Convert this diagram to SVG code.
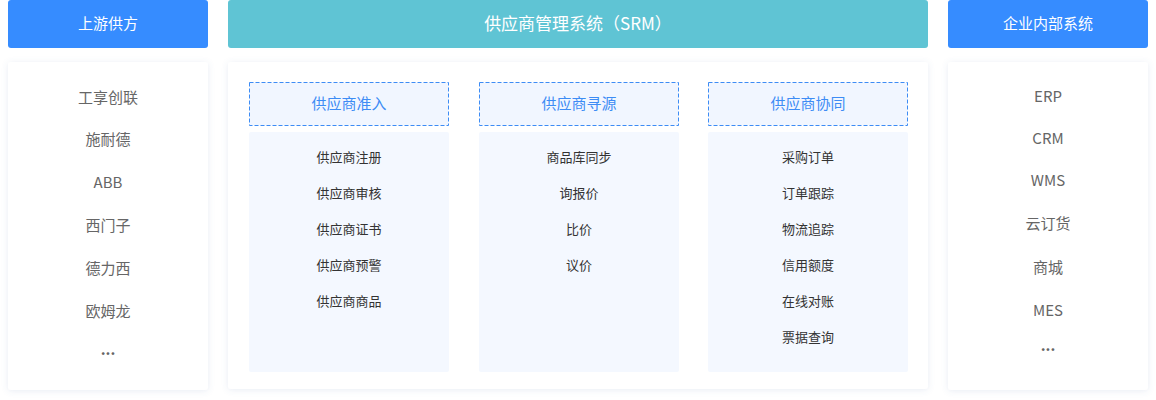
<svg xmlns="http://www.w3.org/2000/svg" width="1156" height="400" viewBox="0 0 1156 400">
<defs>
<filter id="sh" x="-10%" y="-10%" width="120%" height="120%">
<feDropShadow dx="0" dy="1" stdDeviation="3" flood-color="#5a7ab0" flood-opacity="0.14"/>
</filter>
<style>
text{font-family:"Noto Sans CJK SC","Noto Sans",sans-serif;text-anchor:middle;dominant-baseline:central}
.hdr{fill:#368cff}
.ht{fill:#fff;font-size:15px}
.panel{fill:#fff;filter:url(#sh)}
.li{fill:#666;font-size:15px}
.sh{fill:#f1f6ff;stroke:#3d8cf5;stroke-width:1;stroke-dasharray:4 2}
.st{fill:#3d8cf5;font-size:15px}
.body{fill:#f4f8ff}
.it{fill:#333;font-size:13px}
.dot{fill:#666;font-size:15px;font-weight:bold}
</style>
</defs>
<g id="upstream">
<rect class="hdr" x="8" y="0" width="200" height="48" rx="3"/>
<text class="ht" x="108" y="22.5">上游供方</text>
<rect class="panel" x="8" y="62" width="200" height="328" rx="3"/>
<text class="li" x="108" y="96.5">工享创联</text>
<text class="li" x="108" y="138.5">施耐德</text>
<text class="li" x="108" y="181.5">ABB</text>
<text class="li" x="108" y="224.5">西门子</text>
<text class="li" x="108" y="267.5">德力西</text>
<text class="li" x="108" y="310.5">欧姆龙</text>
<text class="dot" x="108" y="348">...</text>
</g>
<g id="srm">
<rect x="228" y="0" width="700" height="48" rx="3" fill="#5fc4d4"/>
<text class="ht" x="578" y="22.5" style="font-size:17px">供应商管理系统（SRM）</text>
<rect class="panel" x="228" y="62" width="700" height="327" rx="3"/>
</g>
<g id="admission">
<rect class="sh" x="249.5" y="82.5" width="199" height="43"/>
<text class="st" x="349" y="102.5">供应商准入</text>
<rect class="body" x="249" y="132" width="200" height="240" rx="2"/>
<text class="it" x="349" y="156">供应商注册</text>
<text class="it" x="349" y="192">供应商审核</text>
<text class="it" x="349" y="228">供应商证书</text>
<text class="it" x="349" y="264">供应商预警</text>
<text class="it" x="349" y="300">供应商商品</text>
</g>
<g id="sourcing">
<rect class="sh" x="479.5" y="82.5" width="199" height="43"/>
<text class="st" x="579" y="102.5">供应商寻源</text>
<rect class="body" x="479" y="132" width="200" height="240" rx="2"/>
<text class="it" x="579" y="156">商品库同步</text>
<text class="it" x="579" y="192">询报价</text>
<text class="it" x="579" y="228">比价</text>
<text class="it" x="579" y="264">议价</text>
</g>
<g id="collab">
<rect class="sh" x="708.5" y="82.5" width="199" height="43"/>
<text class="st" x="808" y="102.5">供应商协同</text>
<rect class="body" x="708" y="132" width="200" height="240" rx="2"/>
<text class="it" x="808" y="156">采购订单</text>
<text class="it" x="808" y="192">订单跟踪</text>
<text class="it" x="808" y="228">物流追踪</text>
<text class="it" x="808" y="264">信用额度</text>
<text class="it" x="808" y="300">在线对账</text>
<text class="it" x="808" y="336">票据查询</text>
</g>
<g id="internal">
<rect class="hdr" x="948" y="0" width="200" height="48" rx="3"/>
<text class="ht" x="1048" y="22.5">企业内部系统</text>
<rect class="panel" x="948" y="62" width="200" height="328" rx="3"/>
<text class="li" x="1048" y="95.5">ERP</text>
<text class="li" x="1048" y="137.5">CRM</text>
<text class="li" x="1048" y="179.5">WMS</text>
<text class="li" x="1048" y="222.5">云订货</text>
<text class="li" x="1048" y="266.5">商城</text>
<text class="li" x="1048" y="309.5">MES</text>
<text class="dot" x="1048" y="344">...</text>
</g>
<g id="connectors"/>
</svg>
